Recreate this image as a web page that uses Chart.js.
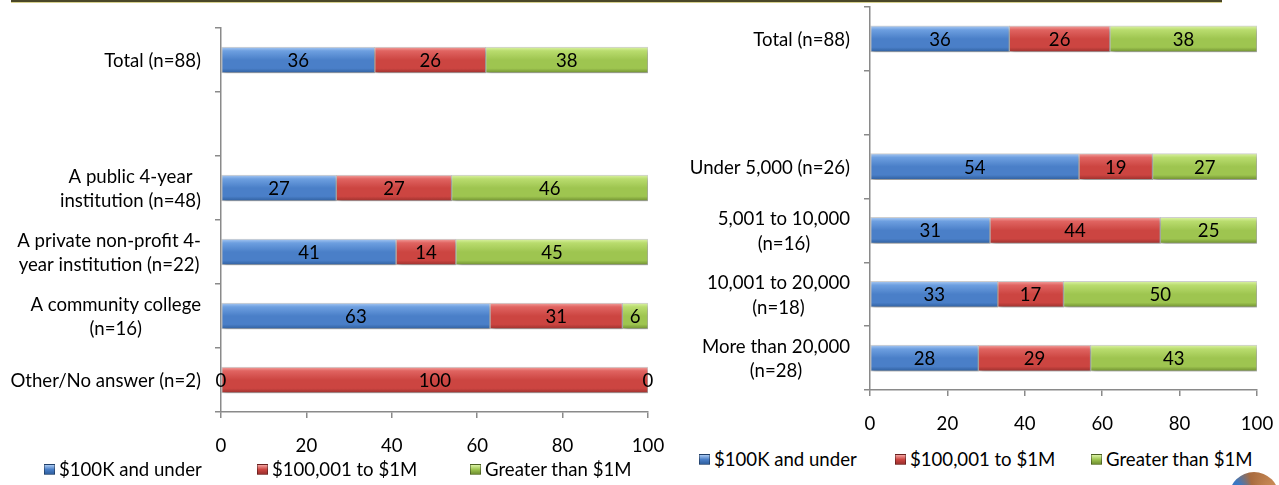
<!DOCTYPE html>
<html>
<head>
<meta charset="utf-8">
<script src="https://cdn.jsdelivr.net/npm/chart.js@4.4.1/dist/chart.umd.min.js"></script>
<style>
    html, body { margin: 0; padding: 0; background: #fff; }
    body { position: relative; width: 1279px; height: 485px; overflow: hidden; font-family: Lato, sans-serif; }
    .frame { position: absolute; left: 11px; top: -10px; width: 1207px; height: 10px; border: 2px solid #4a4728; border-top: none; box-shadow: 0 1px 0 #d6d08e; }
    .chart-box { position: absolute; top: 0; }
    #typeBox { left: 0; width: 680px; height: 462px; }
    #sizeBox { left: 680px; width: 599px; height: 445px; }
    .legend { position: absolute; display: flex; font-size: 18.6px; color: #000; line-height: 22px; }
    .legend .item { display: flex; align-items: center; white-space: nowrap; }
    .legend .swatch { width: 9px; height: 9px; margin-right: 4px; border: 1px solid rgba(0,0,0,0.35); }
    #typeLegend { left: 44px; top: 458px; }
    #typeLegend .item { width: 213px; }
    #sizeLegend { left: 699px; top: 448px; }
    #sizeLegend .item { width: 196px; }
    .logo { position: absolute; left: 1229px; top: 472px; width: 50px; height: 50px; border-radius: 50%;
        background: conic-gradient(from 200deg, #2a5da8 0deg, #3a78c4 110deg, #a86b3f 150deg, #c98a55 220deg, #2a5da8 360deg); }
</style>
</head>
<body>
<div class="frame"></div>
<div class="chart-box" id="typeBox"><canvas id="typeChart"></canvas></div>
<div class="chart-box" id="sizeBox"><canvas id="sizeChart"></canvas></div>
<div class="legend" id="typeLegend"></div>
<div class="legend" id="sizeLegend"></div>
<div class="logo"></div>
<script>
// Series shared by both charts
const seriesNames = ['$100K and under', '$100,001 to $1M', 'Greater than $1M'];

// Left chart: by institution type
const typeLabels = ['Total (n=88)', '', ['A public 4-year', 'institution (n=48)'], ['A private non-profit 4-', 'year institution (n=22)'], ['A community college', '(n=16)'], 'Other/No answer (n=2)'];
const typeUnder100k = [36, null, 27, 41, 63, 0];
const typeTo1M = [26, null, 27, 14, 31, 100];
const typeOver1M = [38, null, 46, 45, 6, 0];

// Right chart: by enrollment size
const sizeLabels = ['Total (n=88)', '', 'Under 5,000 (n=26)', ['5,001 to 10,000', '(n=16)'], ['10,001 to 20,000', '(n=18)'], ['More than 20,000', '(n=28)']];
const sizeUnder100k = [36, null, 54, 31, 33, 28];
const sizeTo1M = [26, null, 19, 44, 17, 29];
const sizeOver1M = [38, null, 27, 25, 50, 43];

const xMin = 0;
const xMax = 100;
const xStep = 20;

const palette = [
    { light: '#a9c9f2', top: '#6d9fe0', mid: '#4a7fc8', dark: '#2f5f9e' },
    { light: '#f3a3a0', top: '#e06461', mid: '#cc4541', dark: '#9b302d' },
    { light: '#dcf3a6', top: '#b9dc6e', mid: '#9ec550', dark: '#6f8f30' }
];

const BAR = 26;
const FONT = { family: 'Lato', size: 18.6 };

Chart.defaults.font.family = FONT.family;
Chart.defaults.font.size = FONT.size;
Chart.defaults.color = '#000';

function barFill(col) {
    return (c) => {
        const y = c.chart.scales.y;
        if (c.type !== 'data' || !y) return col.mid;
        const mid = y.getPixelForValue(c.dataIndex);
        if (!isFinite(mid)) return col.mid;
        const g = c.chart.ctx.createLinearGradient(0, mid - BAR / 2, 0, mid + BAR / 2);
        g.addColorStop(0, col.light);
        g.addColorStop(0.15, col.top);
        g.addColorStop(0.5, col.mid);
        g.addColorStop(0.82, col.mid);
        g.addColorStop(1, col.dark);
        return g;
    };
}

const barShadow = {
    id: 'barShadow',
    beforeDatasetsDraw(chart) {
        const c = chart.ctx;
        c.save();
        c.shadowColor = 'rgba(0, 0, 0, 0.28)';
        c.shadowBlur = 4;
        c.shadowOffsetX = 2;
        c.shadowOffsetY = 3;
    },
    afterDatasetsDraw(chart) {
        chart.ctx.restore();
    }
};

// numbers in the middle of each segment
const valueLabels = {
    id: 'valueLabels',
    afterDatasetsDraw(chart) {
        const c = chart.ctx;
        c.save();
        c.font = `${FONT.size}px ${FONT.family}`;
        c.fillStyle = '#000';
        c.textAlign = 'center';
        c.textBaseline = 'middle';
        chart.data.datasets.forEach((ds, di) => {
            chart.getDatasetMeta(di).data.forEach((bar, i) => {
                if (ds.data[i] == null) return;
                c.fillText(String(ds.data[i]), (bar.x + bar.base) / 2, bar.y + 1);
            });
        });
        c.restore();
    }
};

// category names: block right-aligned to the axis, lines centred inside the block
const categoryLabels = {
    id: 'categoryLabels',
    afterDraw(chart) {
        const c = chart.ctx;
        const y = chart.scales.y;
        const right = chart.chartArea.left - 20;
        const lineH = 24.5;
        c.save();
        c.font = `${FONT.size}px ${FONT.family}`;
        c.fillStyle = '#000';
        c.textAlign = 'center';
        c.textBaseline = 'middle';
        chart.data.labels.forEach((label, i) => {
            const lines = [].concat(label).filter(l => l !== '');
            if (!lines.length) return;
            const w = Math.max(...lines.map(l => c.measureText(l).width));
            const cx = right - w / 2;
            const cy = y.getPixelForValue(i);
            lines.forEach((l, k) => c.fillText(l, cx, cy + (k - (lines.length - 1) / 2) * lineH + 1));
        });
        c.restore();
    }
};

function makeChart(id, labels, values, layout) {
    const ctx = document.getElementById(id).getContext('2d');
    return new Chart(ctx, {
        type: 'bar',
        data: {
            labels: labels,
            datasets: values.map((data, i) => ({
                label: seriesNames[i],
                data: data,
                backgroundColor: barFill(palette[i]),
                borderColor: 'rgba(0, 0, 0, 0.18)',
                borderWidth: 1,
                borderSkipped: false,
                barThickness: BAR
            }))
        },
        options: {
            indexAxis: 'y',
            responsive: true,
            maintainAspectRatio: false,
            animation: false,
            events: [],
            layout: { padding: { top: layout.top, right: layout.right, left: 0, bottom: 0 } },
            plugins: { legend: { display: false }, tooltip: { enabled: false } },
            scales: {
                x: {
                    stacked: true,
                    min: xMin,
                    max: xMax,
                    ticks: { stepSize: xStep, padding: 17, color: '#000', font: FONT },
                    grid: { drawOnChartArea: false, tickLength: 6, color: '#8a8a8a', lineWidth: 1.5 },
                    border: { color: '#8a8a8a', width: 1.5 },
                    afterFit: s => {
                        s.height = layout.xHeight;
                        s.paddingLeft = 0;
                        s.paddingRight = 0;
                    }
                },
                y: {
                    stacked: true,
                    ticks: { display: false },
                    grid: { drawOnChartArea: false, tickLength: 6, color: '#8a8a8a', lineWidth: 1.5 },
                    border: { color: '#8a8a8a', width: 1.5 },
                    afterFit: s => { s.width = layout.yWidth; }
                }
            }
        },
        plugins: [barShadow, valueLabels, categoryLabels]
    });
}

makeChart('typeChart', typeLabels, [typeUnder100k, typeTo1M, typeOver1M], { top: 28, right: 32, yWidth: 221, xHeight: 50 });
makeChart('sizeChart', sizeLabels, [sizeUnder100k, sizeTo1M, sizeOver1M], { top: 7, right: 22, yWidth: 190, xHeight: 55 });

// HTML legends
['typeLegend', 'sizeLegend'].forEach(id => {
    const box = document.getElementById(id);
    seriesNames.forEach((name, i) => {
        const p = palette[i];
        const item = document.createElement('div');
        item.className = 'item';
        const sw = document.createElement('span');
        sw.className = 'swatch';
        sw.style.background = `linear-gradient(${p.light}, ${p.mid} 50%, ${p.dark})`;
        const txt = document.createElement('span');
        txt.textContent = name;
        item.appendChild(sw);
        item.appendChild(txt);
        box.appendChild(item);
    });
});
</script>
</body>
</html>
